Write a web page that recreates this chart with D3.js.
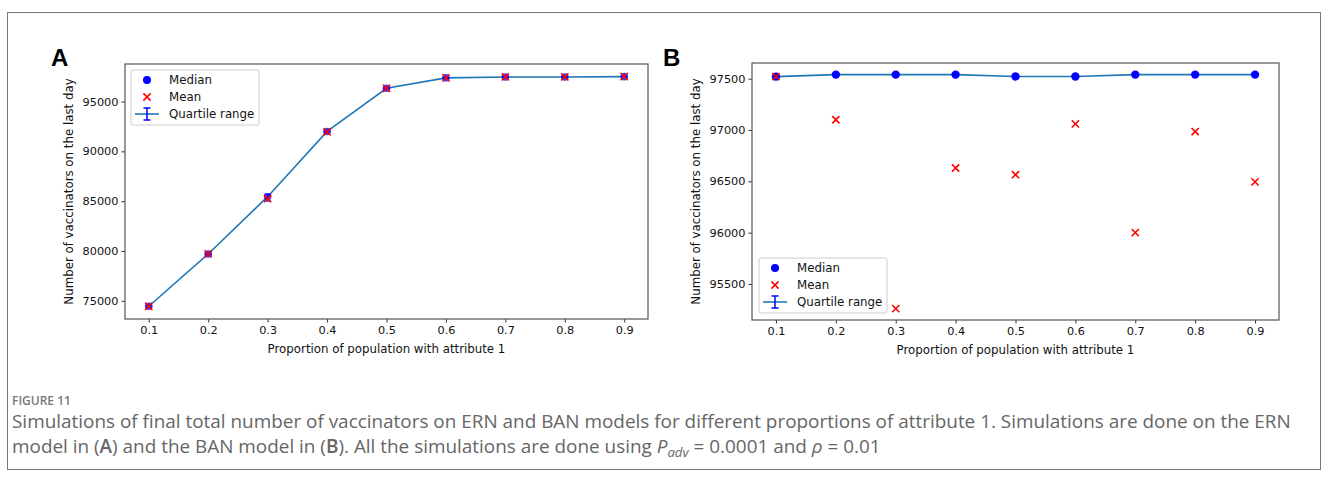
<!DOCTYPE html>
<html>
<head>
<meta charset="utf-8">
<script src="https://cdn.jsdelivr.net/npm/d3@7"></script>
<style>
  body { margin: 0; background: #fff; }
  svg text { font-family: "DejaVu Sans", sans-serif; }
  .cap text { font-family: "Open Sans", Lato, sans-serif; }
</style>
</head>
<body>
<div id="chart"></div>
<script>
// proportions of attribute 1
var props = [0.1, 0.2, 0.3, 0.4, 0.5, 0.6, 0.7, 0.8, 0.9];
var xTicks = [0.1, 0.2, 0.3, 0.4, 0.5, 0.6, 0.7, 0.8, 0.9];

// panel A (ERN)
var aMedian = [74450, 79700, 85450, 92000, 96330, 97380, 97470, 97470, 97500];
var aMean   = [74450, 79700, 85250, 91950, 96330, 97380, 97470, 97470, 97500];
var aQ1     = [74350, 79600, 85000, 91900, 96250, 97330, 97430, 97430, 97460];
var aQ3     = [74550, 79800, 85700, 92100, 96400, 97420, 97510, 97510, 97540];
var aYTicks = [75000, 80000, 85000, 90000, 95000];

// panel B (BAN)
var bMedian = [97520, 97540, 97540, 97540, 97522, 97522, 97540, 97540, 97540];
var bMean   = [97520, 97100, 95260, 96630, 96565, 97060, 96000, 96985, 96495];
var bQ1     = [97515, 97535, 97535, 97535, 97517, 97517, 97535, 97535, 97535];
var bQ3     = [97525, 97545, 97545, 97545, 97527, 97527, 97545, 97545, 97545];
var bYTicks = [95500, 96000, 96500, 97000, 97500];

var W = 1328, H = 478;
var svg = d3.select("#chart").append("svg")
  .attr("width", W).attr("height", H);

// outer figure frame
svg.append("rect")
  .attr("x", 7.5).attr("y", 12.5)
  .attr("width", 1313).attr("height", 457)
  .attr("fill", "none").attr("stroke", "#777").attr("stroke-width", 1);

function panel(cfg){
  var g = svg.append("g");
  var x = d3.scaleLinear().domain([0.06, 0.94]).range([cfg.left, cfg.right]);
  var y = d3.scaleLinear().domain(cfg.yDomain).range([cfg.bottom, cfg.top]);

  // axes
  var xAxis = d3.axisBottom(x).tickValues(xTicks).tickSize(3.5).tickPadding(3)
    .tickFormat(d3.format(".1f"));
  var yAxis = d3.axisLeft(y).tickValues(cfg.yTicks).tickSize(3.5).tickPadding(3)
    .tickFormat(d3.format("d"));

  var gx = g.append("g").attr("transform", "translate(0," + cfg.bottom + ")").call(xAxis);
  var gy = g.append("g").attr("transform", "translate(" + cfg.left + ",0)").call(yAxis);
  [gx, gy].forEach(function(a){
    a.select(".domain").remove();
    a.selectAll("line").attr("stroke", "#333");
    a.selectAll("text").attr("fill", "#111").style("font-size", "11.3px");
  });

  g.append("rect")
    .attr("x", cfg.left).attr("y", cfg.top)
    .attr("width", cfg.right - cfg.left).attr("height", cfg.bottom - cfg.top)
    .attr("fill", "none").attr("stroke", "#555").attr("stroke-width", 1.2);

  // labels
  g.append("text")
    .attr("x", (cfg.left + cfg.right) / 2).attr("y", cfg.bottom + 34)
    .attr("text-anchor", "middle").style("font-size", "11.8px").attr("fill", "#111")
    .text("Proportion of population with attribute 1");
  g.append("text")
    .attr("transform", "translate(" + (cfg.left - 52) + "," + ((cfg.top + cfg.bottom) / 2) + ") rotate(-90)")
    .attr("text-anchor", "middle").style("font-size", "11.8px").attr("fill", "#111")
    .text("Number of vaccinators on the last day");
  g.append("text")
    .attr("x", cfg.letterX).attr("y", 66)
    .style("font-size", "24px").style("font-weight", "bold").attr("fill", "#000")
    .style("font-family", "Liberation Sans, Arial, sans-serif")
    .text(cfg.letter);

  // median line
  var line = d3.line()
    .x(function(d, i){ return x(props[i]); })
    .y(function(d){ return y(d); });
  g.append("path").datum(cfg.median)
    .attr("fill", "none").attr("stroke", "#1f77b4").attr("stroke-width", 1.6)
    .attr("d", line);

  // quartile error bars
  props.forEach(function(p, i){
    var cx = x(p);
    g.append("line").attr("x1", cx).attr("x2", cx)
      .attr("y1", y(cfg.q1[i])).attr("y2", y(cfg.q3[i]))
      .attr("stroke", "#0000ff").attr("stroke-width", 1.5).attr("opacity", 0.6);
    [cfg.q1[i], cfg.q3[i]].forEach(function(v){
      g.append("line").attr("x1", cx - 3.5).attr("x2", cx + 3.5)
        .attr("y1", y(v)).attr("y2", y(v))
        .attr("stroke", "#0000ff").attr("stroke-width", 1.5).attr("opacity", 0.6);
    });
  });

  // median dots
  g.selectAll(".med").data(cfg.median).enter().append("circle")
    .attr("cx", function(d, i){ return x(props[i]); })
    .attr("cy", function(d){ return y(d); })
    .attr("r", cfg.dotR).attr("fill", "#0000ff").attr("opacity", cfg.dotOp);

  // mean crosses
  var s = 3.6;
  g.selectAll(".mean").data(cfg.mean).enter().append("path")
    .attr("d", function(d, i){
      var cx = x(props[i]), cy = y(d);
      return "M" + (cx - s) + "," + (cy - s) + "L" + (cx + s) + "," + (cy + s) +
             "M" + (cx - s) + "," + (cy + s) + "L" + (cx + s) + "," + (cy - s);
    })
    .attr("stroke", "#ff0000").attr("stroke-width", 1.6).attr("fill", "none");

  // legend
  var lg = g.append("g").attr("transform", "translate(" + cfg.legX + "," + cfg.legY + ")");
  lg.append("rect").attr("x", 0).attr("y", 0).attr("width", 128).attr("height", 55)
    .attr("rx", 2).attr("fill", "#fff").attr("stroke", "#ccc").attr("stroke-width", 1);
  var mx = 16, tx = 38;
  lg.append("circle").attr("cx", mx).attr("cy", 10).attr("r", 4).attr("fill", "#0000ff");
  lg.append("path")
    .attr("d", "M" + (mx - s) + "," + (27 - s) + "L" + (mx + s) + "," + (27 + s) +
               "M" + (mx - s) + "," + (27 + s) + "L" + (mx + s) + "," + (27 - s))
    .attr("stroke", "#ff0000").attr("stroke-width", 1.6);
  lg.append("line").attr("x1", mx - 12).attr("x2", mx + 12).attr("y1", 44).attr("y2", 44)
    .attr("stroke", "#1f77b4").attr("stroke-width", 1.6);
  lg.append("line").attr("x1", mx).attr("x2", mx).attr("y1", 38).attr("y2", 50)
    .attr("stroke", "#0000ff").attr("stroke-width", 1.5);
  [38, 50].forEach(function(v){
    lg.append("line").attr("x1", mx - 3.5).attr("x2", mx + 3.5).attr("y1", v).attr("y2", v)
      .attr("stroke", "#0000ff").attr("stroke-width", 1.5);
  });
  ["Median", "Mean", "Quartile range"].forEach(function(t, i){
    lg.append("text").attr("x", tx).attr("y", 10 + i * 17).attr("dy", "0.35em")
      .style("font-size", "11.8px").attr("fill", "#111").text(t);
  });
}

panel({
  letter: "A", letterX: 51,
  left: 125, right: 648, top: 64, bottom: 319,
  yDomain: [73170, 98770], yTicks: aYTicks,
  median: aMedian, mean: aMean, q1: aQ1, q3: aQ3,
  dotR: 3.8, dotOp: 0.75,
  legX: 131, legY: 70
});

panel({
  letter: "B", letterX: 663,
  left: 752, right: 1279, top: 63, bottom: 320,
  yDomain: [95149, 97653], yTicks: bYTicks,
  median: bMedian, mean: bMean, q1: bQ1, q3: bQ3,
  dotR: 4.2, dotOp: 1,
  legX: 759, legY: 258
});

// caption
var capX = 12, capEnd = 1292;
var cap = svg.append("g").attr("class", "cap");
cap.append("text").attr("x", capX).attr("y", 405)
  .style("font-size", "12px").style("font-weight", "600").attr("fill", "#777").text("FIGURE 11");
var l1 = cap.append("text").attr("x", capX).attr("y", 428)
  .style("font-size", "16px").attr("fill", "#666")
  .text("Simulations of final total number of vaccinators on ERN and BAN models for different proportions of attribute 1. Simulations are done on the ERN");
// size the caption font so the first line spans the frame width
var fs = 16 * (capEnd - capX) / l1.node().getComputedTextLength();
l1.style("font-size", fs + "px");
var l2 = cap.append("text").attr("x", capX).attr("y", 453)
  .style("font-size", fs + "px").attr("fill", "#666");
l2.append("tspan").text("model in (");
l2.append("tspan").style("font-weight", "600").text("A");
l2.append("tspan").text(") and the BAN model in (");
l2.append("tspan").style("font-weight", "600").text("B");
l2.append("tspan").text("). All the simulations are done using ");
l2.append("tspan").style("font-style", "italic").text("P");
l2.append("tspan").style("font-style", "italic").style("font-size", (fs * 0.7) + "px").attr("dy", 4).text("adv");
l2.append("tspan").attr("dy", -4).text(" = 0.0001 and ");
l2.append("tspan").style("font-style", "italic").text("ρ");
l2.append("tspan").text(" = 0.01");
</script>
</body>
</html>
